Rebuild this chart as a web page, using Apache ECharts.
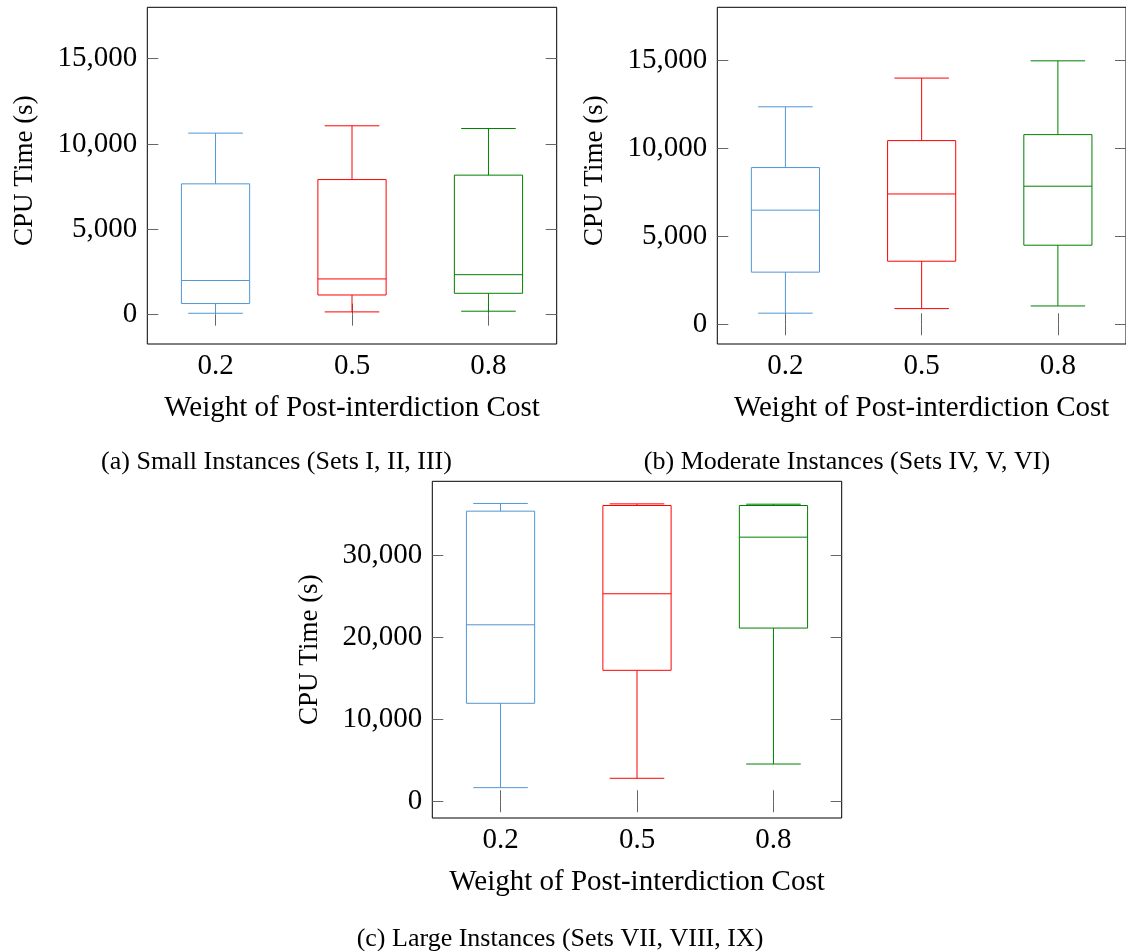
<!DOCTYPE html>
<html>
<head>
<meta charset="utf-8">
<script src="https://cdn.jsdelivr.net/npm/echarts@6/dist/echarts.min.js"></script>
<style>
  html, body { margin: 0; padding: 0; background: #fff; }
  #chart { width: 1126px; height: 951px; }
</style>
</head>
<body>
<div id="chart"></div>
<script>
const categories = ['0.2', '0.5', '0.8']
const boxColors = ['#5196d4', '#ff0000', '#008000']

// [min, Q1, median, Q3, max] for each weight
const smallBoxes = [
  [80, 650, 2000, 7660, 10630],
  [160, 1150, 2090, 7910, 11060],
  [200, 1250, 2340, 8170, 10900]
]
const moderateBoxes = [
  [630, 2960, 6480, 8900, 12350],
  [890, 3580, 7400, 10430, 13980],
  [1040, 4490, 7840, 10770, 14960]
]
const largeBoxes = [
  [1660, 11940, 21510, 35360, 36300],
  [2800, 15960, 25290, 36050, 36250],
  [4540, 21110, 32190, 36050, 36210]
]

const smallTicks = [0, 5000, 10000, 15000]
const largeTicks = [0, 10000, 20000, 30000]

const captions = [
  '(a) Small Instances (Sets I, II, III)',
  '(b) Moderate Instances (Sets IV, V, VI)',
  '(c) Large Instances (Sets VII, VIII, IX)'
]

const serif = 'Liberation Serif'
const tickColor = '#666'

const panels = [
  { boxes: smallBoxes, ticks: smallTicks, min: -1720, max: 18000, left: 147.3, top: 7.3, namePad: 10 },
  { boxes: moderateBoxes, ticks: smallTicks, min: -1120, max: 18000, left: 717.3, top: 7.3, namePad: 10 },
  { boxes: largeBoxes, ticks: largeTicks, min: -2040, max: 39000, left: 432.3, top: 481.3, namePad: 0 }
]

function renderBox(params, api) {
  const i = api.value(0)
  const lo = api.coord([i, api.value(1)])
  const q1 = api.coord([i, api.value(2)])
  const med = api.coord([i, api.value(3)])
  const q3 = api.coord([i, api.value(4)])
  const hi = api.coord([i, api.value(5)])
  const band = api.size([1, 0])[0]
  const half = band * 0.25
  const cap = band * 0.2
  const cx = lo[0]
  const style = { stroke: boxColors[params.dataIndex], fill: null, lineWidth: 1 }
  const line = (x1, y1, x2, y2) => ({ type: 'line', shape: { x1, y1, x2, y2 }, style })
  return {
    type: 'group',
    children: [
      { type: 'rect', shape: { x: cx - half, y: q3[1], width: half * 2, height: q1[1] - q3[1] }, style },
      line(cx - half, med[1], cx + half, med[1]),
      line(cx, q3[1], cx, hi[1]),
      line(cx, q1[1], cx, lo[1]),
      line(cx - cap, hi[1], cx + cap, hi[1]),
      line(cx - cap, lo[1], cx + cap, lo[1])
    ]
  }
}

const grid = []
const xAxis = []
const yAxis = []
const series = []

panels.forEach((p, k) => {
  grid.push({
    left: p.left, top: p.top, width: 409.4, height: 336.7,
    show: true, borderColor: '#000', borderWidth: 1, backgroundColor: 'transparent'
  })
  const tick = { show: true, inside: true, length: 11, alignWithLabel: true, lineStyle: { color: tickColor } }
  xAxis.push({
    type: 'category', gridIndex: k, data: categories, position: 'bottom',
    axisLine: { show: false }, axisTick: tick,
    axisLabel: { margin: 8, color: '#000', fontFamily: serif, fontSize: 29 },
    name: 'Weight of Post-interdiction Cost', nameLocation: 'middle', nameGap: 50,
    nameTextStyle: { color: '#000', fontFamily: serif, fontSize: 29 }
  })
  xAxis.push({
    type: 'category', gridIndex: k, data: categories, position: 'top',
    axisLine: { show: false }, axisTick: tick, axisLabel: { show: false }
  })
  const yTick = { show: true, inside: true, length: 11, customValues: p.ticks, lineStyle: { color: tickColor } }
  yAxis.push({
    type: 'value', gridIndex: k, position: 'left', min: p.min, max: p.max,
    splitLine: { show: false }, axisLine: { show: false }, axisTick: yTick,
    axisLabel: {
      customValues: p.ticks, margin: 10, color: '#000', fontFamily: serif, fontSize: 29,
      formatter: v => v.toLocaleString('en-US')
    },
    name: 'CPU Time (s)', nameLocation: 'middle', nameGap: 109,
    nameTextStyle: { color: '#000', fontFamily: serif, fontSize: 27, padding: [0, 0, 0, p.namePad] }
  })
  yAxis.push({
    type: 'value', gridIndex: k, position: 'right', min: p.min, max: p.max,
    splitLine: { show: false }, axisLine: { show: false }, axisTick: yTick,
    axisLabel: { show: false }
  })
  series.push({
    type: 'custom',
    xAxisIndex: k * 2,
    yAxisIndex: k * 2,
    renderItem: renderBox,
    encode: { x: 0, y: [1, 2, 3, 4, 5] },
    data: p.boxes.map((b, i) => [i].concat(b))
  })
})

const captionPos = [[276.5, 462], [847, 462], [560, 939]]

const option = {
  animation: false,
  backgroundColor: '#fff',
  grid,
  xAxis,
  yAxis,
  series,
  graphic: captions.map((t, i) => ({
    type: 'text',
    x: captionPos[i][0],
    y: captionPos[i][1],
    style: { text: t, fill: '#000', font: '26px "Liberation Serif"', align: 'center', verticalAlign: 'middle' }
  }))
}

const chart = echarts.init(document.getElementById('chart'), null, { renderer: 'canvas' })
chart.setOption(option)
window.addEventListener('resize', () => chart.resize())
</script>
</body>
</html>
